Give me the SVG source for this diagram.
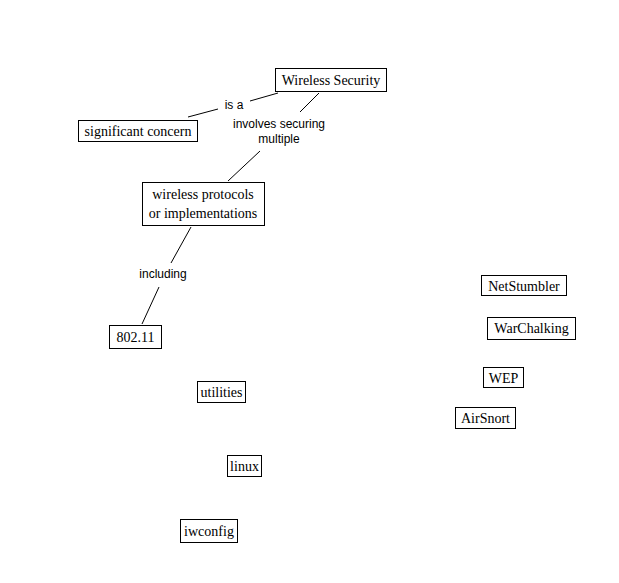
<svg xmlns="http://www.w3.org/2000/svg" width="619" height="583" viewBox="0 0 619 583">
<style>
.n rect{fill:#fff;stroke:#000;stroke-width:1}
.n text{font-family:"Liberation Serif",serif;font-size:14px;fill:#000;text-anchor:middle}
.c line{stroke:#000;stroke-width:1}
.c text{font-family:"Liberation Sans",sans-serif;font-size:12px;fill:#000;text-anchor:middle}
</style>
<rect width="619" height="583" fill="#fff"/>
<g class="c">
<line x1="278" y1="93" x2="250" y2="101"/>
<line x1="218" y1="109" x2="188" y2="117"/>
<text x="234" y="109">is a</text>
<line x1="319" y1="93" x2="300" y2="112"/>
<text x="279" y="128">involves securing</text>
<text x="279" y="143">multiple</text>
<line x1="260" y1="151" x2="228" y2="181"/>
<line x1="191" y1="227" x2="171" y2="263"/>
<text x="163" y="278">including</text>
<line x1="159" y1="287" x2="142" y2="324"/>
</g>
<g id="wireless-security" class="n"><rect x="275.5" y="68.5" width="111" height="23"/><text x="331" y="85">Wireless Security</text></g>
<g id="significant-concern" class="n"><rect x="78.5" y="120.5" width="119" height="21"/><text x="138" y="136">significant concern</text></g>
<g id="wireless-protocols" class="n"><rect x="142.5" y="182.5" width="122" height="43"/><text x="203" y="199">wireless protocols</text><text x="203" y="218">or implementations</text></g>
<g id="n80211" class="n"><rect x="109.5" y="325.5" width="52" height="23"/><text x="135.5" y="342">802.11</text></g>
<g id="netstumbler" class="n"><rect x="481.5" y="275.5" width="85" height="20"/><text x="524" y="291">NetStumbler</text></g>
<g id="warchalking" class="n"><rect x="487.5" y="317.5" width="88" height="22"/><text x="531.5" y="333">WarChalking</text></g>
<g id="wep" class="n"><rect x="483.5" y="367.5" width="40" height="20"/><text x="503.5" y="383">WEP</text></g>
<g id="airsnort" class="n"><rect x="455.5" y="407.5" width="60" height="21"/><text x="485.5" y="423">AirSnort</text></g>
<g id="utilities" class="n"><rect x="197.5" y="381.5" width="48" height="21"/><text x="221.5" y="397">utilities</text></g>
<g id="linux" class="n"><rect x="227.5" y="455.5" width="34" height="21"/><text x="244.5" y="471">linux</text></g>
<g id="iwconfig" class="n"><rect x="180.5" y="519.5" width="57" height="23"/><text x="209" y="536">iwconfig</text></g>
</svg>
